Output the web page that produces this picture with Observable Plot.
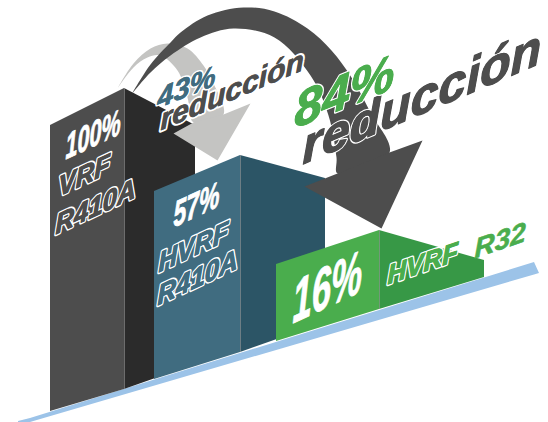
<!DOCTYPE html>
<html>
<head>
<meta charset="utf-8">
<script src="https://cdn.jsdelivr.net/npm/d3@7"></script>
<script src="https://cdn.jsdelivr.net/npm/@observablehq/plot@0.6"></script>
<style>html,body{margin:0;padding:0;background:#fff}svg{display:block}</style>
</head>
<body>
<div id="chart"></div>
<script>
// Bars: front and side faces (left-to-right vertices)
const barNames = ["VRF", "HVRF410", "HVRF32"];
const barShares = [100, 57, 16];
const frontX = [[50, 124], [154, 240], [276, 379]];
const frontTop = [[125, 88], [191, 155], [264, 230]];
const frontBase = [[411, 389], [379, 352], [341, 309]];
const sideX = [[124, 195], [240, 325], [379, 484]];
const sideTop = [[88, 125], [155, 178], [230, 260]];
const sideBase = [[389, 364], [352, 322], [309, 277]];
const frontColors = ["#4d4d4d", "#406c80", "#4aad4d"];
const sideColors = ["#2b2b2b", "#2c5566", "#379846"];

// Floor strip
const floorX = [18, 30, 534, 539];
const floorTop = [421, 418, 262, 273];
const floorBottom = [422, 422, 274.5, 273];

// Arrows
const darkShaftX = [131, 150, 170, 180, 207, 243, 274, 307, 331, 351, 370, 389, 337, 336, 328, 310, 274, 233, 200, 170, 150, 131];
const darkShaftY = [94, 64, 42, 32, 15, 7, 11, 28, 50, 77, 112, 152, 173, 157, 115, 75, 37, 28, 37, 55, 72, 94];
const darkHeadX = [422, 381, 304, 337, 389];
const darkHeadY = [140, 228, 186, 173, 152];
const lightShaftX = [117, 133, 150, 167, 187, 203, 213, 223, 193, 187, 177, 160, 147, 133, 117];
const lightShaftY = [88, 63, 48, 43, 48, 65, 83, 114, 122, 97, 70, 55, 57, 67, 88];
const lightHeadX = [250, 217, 173, 193, 223];
const lightHeadY = [103, 160, 133, 122, 114];

// Labels
const shareLabels = ["100%", "57%", "16%"];
const shareX = [65, 173, 292];
const shareY = [159, 227, 323];
const shareSize = [36, 36, 60];
const shareStretch = [0.6, 0.64, 0.58];
const nameLabels = ["VRF", "R410A", "HVRF", "R410A"];
const nameX = [58, 55, 158, 157];
const nameY = [196, 234, 272, 305];
const nameFills = ["#4d4d4d", "#4d4d4d", "#406c80", "#406c80"];

const faces = [];
barNames.forEach((name, i) => {
  [0, 1].forEach(k => faces.push({face: name + " side", x: sideX[i][k], top: sideTop[i][k], base: sideBase[i][k], color: sideColors[i]}));
  [0, 1].forEach(k => faces.push({face: name + " front", x: frontX[i][k], top: frontTop[i][k], base: frontBase[i][k], color: frontColors[i]}));
});
const floor = floorX.map((x, i) => ({x, top: floorTop[i], bottom: floorBottom[i]}));
const xy = (xs, ys) => xs.map((x, i) => ({x, y: ys[i]}));
const ridges = barNames.map((name, i) => ({x: frontX[i][1], top: frontTop[i][1], base: frontBase[i][1]}));

const font = {fontFamily: "Liberation Sans, Arial, sans-serif", fontWeight: "bold", fontStyle: "italic", textAnchor: "start", lineAnchor: "bottom"};
const skew = (angle, stretch = 1) => (index, scales, values, dims, ctx, next) => {
  const g = next(index, scales, values, dims, ctx);
  g.querySelectorAll("text").forEach(t => t.setAttribute("transform", `${t.getAttribute("transform") || ""} skewY(${angle}) scale(${stretch},1)`));
  return g;
};
const word = (text, x, y, size, angle, stretch, fill, extra = {}) =>
  Plot.text([text], {...font, x: () => x, y: () => y, text: d => d, fontSize: size, fill, render: skew(angle, stretch), ...extra});
const stroked = (color, w) => ({stroke: color, strokeWidth: w, paintOrder: "stroke", strokeLinejoin: "round"});
// a word with a white surround and a slightly thickened glyph
const heavy = (text, x, y, size, angle, stretch, fill, white, thick) => [
  word(text, x, y, size, angle, stretch, fill, stroked("white", white)),
  word(text, x, y, size, angle, stretch, fill, stroked(fill, thick))
];

const plot = Plot.plot({
  width: 548, height: 422, margin: 0,
  x: {domain: [0, 548], axis: null},
  y: {domain: [422, 0], axis: null},
  marks: [
    Plot.area(floor, {x1: "x", y1: "bottom", y2: "top", fill: "#9cc3e8"}),
    Plot.area(faces, {x1: "x", y1: "base", y2: "top", z: "face", fill: "color"}),
    Plot.ruleX(ridges, {x: "x", y1: "top", y2: "base", stroke: "#9a9a9a", strokeOpacity: 0.6, strokeWidth: 1}),
    Plot.line(xy(lightShaftX, lightShaftY), {x: "x", y: "y", fill: "#c4c4c2", stroke: "none", curve: "catmull-rom"}),
    Plot.line(xy(lightHeadX, lightHeadY), {x: "x", y: "y", fill: "#c4c4c2", stroke: "none"}),
    Plot.line(xy(darkShaftX, darkShaftY), {x: "x", y: "y", fill: "#4d4d4d", stroke: "none", curve: "catmull-rom"}),
    Plot.line(xy(darkHeadX, darkHeadY), {x: "x", y: "y", fill: "#4d4d4d", stroke: "none"}),
    ...shareLabels.map((t, i) => word(t, shareX[i], shareY[i], shareSize[i], -25, shareStretch[i], "white", stroked("white", 0.9))),
    ...nameLabels.flatMap((t, i) => heavy(t, nameX[i], nameY[i], 28, -25, 0.92, nameFills[i], 3.8, 1)),
    ...heavy("HVRF", 387, 284, 27, -19, 0.96, "#4aad4d", 3.6, 1),
    word("R32", 474, 258, 28, -19, 1, "#4aad4d", stroked("#4aad4d", 0.6)),
    ...heavy("reducción", 160, 130, 30, -23, 1, "#4d4d4d", 4.5, 0.6),
    ...heavy("43%", 157, 108, 29, -22, 1, "#406c80", 3.5, 0.5),
    ...heavy("reducción", 302, 164, 50, -23, 1, "#4d4d4d", 3.5, 1.2),
    ...heavy("84%", 294, 128, 50, -22, 1, "#4aad4d", 3.5, 1)
  ]
});
document.getElementById("chart").append(plot);
</script>
</body>
</html>
